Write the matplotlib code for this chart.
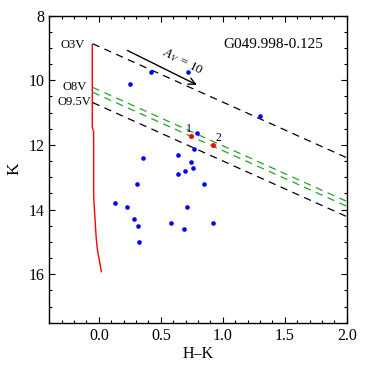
import matplotlib
matplotlib.use("Agg")
import matplotlib.pyplot as plt
import numpy as np
from matplotlib.ticker import MultipleLocator

plt.rcParams['font.family'] = ['Liberation Serif', 'DejaVu Serif']
plt.rcParams['mathtext.fontset'] = 'stix'

# Field stars (H-K, K)
blue_hk = [0.249, 0.424, 0.72, 1.30, 0.79, 0.766, 0.356, 0.642, 0.741, 0.760, 0.695,
           0.639, 0.31, 0.846, 0.133, 0.23, 0.711, 0.28, 0.318, 0.582, 0.922, 0.685, 0.327]
blue_k = [10.12, 9.75, 9.74, 11.11, 11.62, 12.12, 12.41, 12.31, 12.52, 12.71, 12.81,
          12.91, 13.21, 13.21, 13.81, 13.91, 13.91, 14.30, 14.51, 14.42, 14.42, 14.61, 15.0]

# Candidate sources
red_hk = [0.747, 0.922]
red_k = [11.71, 12.0]
red_labels = ["1", "2"]

# Main sequence
ms_hk = [-0.053, -0.053, -0.042, -0.042, -0.022, -0.013, 0.02]
ms_k = [8.9, 11.45, 11.6, 13.6, 14.85, 15.2, 15.92]

# Reddening vectors: intrinsic points
sp_hk0 = -0.05
o3v_k = 8.87
o8v_k = [10.22, 10.37]
o95v_k = 10.69
red_slope = 1.72

# Arrow Av=10
arrow_start = (0.21, 9.04)
arrow_end = (0.81, 10.18)

fig = plt.figure(figsize=(3.65, 3.71), dpi=100)
ax = fig.add_axes([0.135, 0.130, 0.815, 0.828])

ax.plot(ms_hk, ms_k, color='red', lw=1.0)

xx = np.array([sp_hk0, 2.0])
dash = (0, (5.9, 4.4))
ax.plot(xx, o3v_k + red_slope * (xx - sp_hk0), color='black', lw=0.9, linestyle=dash)
for k0 in o8v_k:
    ax.plot(xx, k0 + red_slope * (xx - sp_hk0), color='#2ca02c', lw=0.9, linestyle=dash)
ax.plot(xx, o95v_k + red_slope * (xx - sp_hk0), color='black', lw=0.9, linestyle=dash)

ax.scatter(blue_hk, blue_k, s=11, color='blue', zorder=3, linewidths=0)
ax.scatter(red_hk, red_k, s=13, color='red', zorder=4, linewidths=0)
ax.text(red_hk[0] + 0.005, red_k[0] - 0.02, red_labels[0], fontsize=8.5, ha='right', va='bottom')
ax.text(red_hk[1] + 0.02, red_k[1] - 0.02, red_labels[1], fontsize=8.5, ha='left', va='bottom')

ax.annotate('', xy=arrow_end, xytext=arrow_start,
            arrowprops=dict(arrowstyle='->', color='black', lw=1.0, mutation_scale=12))
ax.text(0.68, 9.43, r'$A_V$ = 10', fontsize=9.5, rotation=-27, ha='center', va='center')

ax.text(-0.11, 8.9, 'O3V', fontsize=9, ha='right', va='center')
ax.text(-0.10, 10.2, 'O8V', fontsize=9, ha='right', va='center')
ax.text(-0.06, 10.66, 'O9.5V', fontsize=9, ha='right', va='center')

ax.text(1.41, 8.88, 'G049.998-0.125', fontsize=11, ha='center', va='center')

ax.set_xlim(-0.4, 2.0)
ax.set_ylim(17.5, 8.0)
ax.xaxis.set_major_locator(MultipleLocator(0.5))
ax.xaxis.set_minor_locator(MultipleLocator(0.1))
ax.yaxis.set_major_locator(MultipleLocator(2))
ax.yaxis.set_minor_locator(MultipleLocator(0.5))
ax.tick_params(which='both', direction='in', top=True, right=True, labelsize=11.5, width=0.8)
ax.tick_params(which='major', length=4)
ax.tick_params(which='minor', length=2)
ax.set_xticks([0.0, 0.5, 1.0, 1.5, 2.0])
ax.set_xticklabels(['0.0', '0.5', '1.0', '1.5', '2.0'])
for s in ax.spines.values():
    s.set_linewidth(1.0)

ax.set_xlabel('H\u2013K', fontsize=11.5, labelpad=2)
ax.set_ylabel('K', fontsize=12.5, labelpad=4)

fig.savefig('out.png', dpi=100)
